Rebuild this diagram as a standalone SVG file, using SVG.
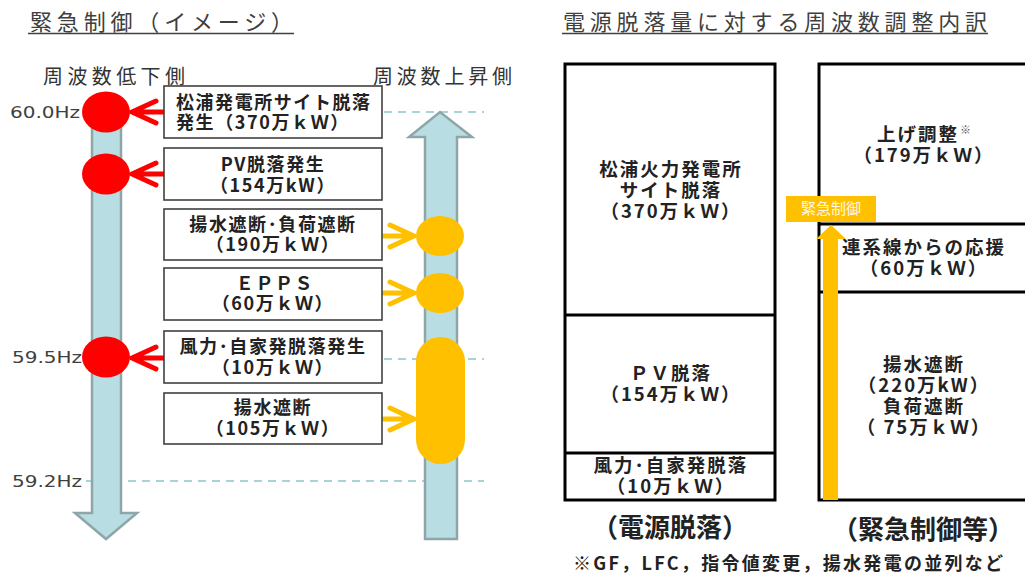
<svg xmlns="http://www.w3.org/2000/svg" width="1025" height="574" viewBox="0 0 1025 574">
<style>
.jp{font-family:"Noto Sans CJK JP","Noto Sans",sans-serif}
.b{font-weight:bold;fill:#222}
.t{font-size:18px;letter-spacing:1.6px;text-anchor:middle}
.r{font-size:18.5px;letter-spacing:2px;text-anchor:middle}
.ttl{font-size:22px;fill:#404040}
.sub{font-size:20px;fill:#333}
.hz{font-family:"DejaVu Sans",sans-serif;font-size:16px;fill:#404040}
.box{fill:#fff;stroke:#404040;stroke-width:1.6}
.cell{fill:#fff;stroke:#000;stroke-width:3}
.dash{stroke:#a8d4d8;stroke-width:2;stroke-dasharray:8 6;fill:none}
.bigarrow{fill:#b8dee3;stroke:#8fa6a9;stroke-width:2.5}
.red{fill:#ff0000}
.org{fill:#ffc000}
.ra{stroke:#ff0000;stroke-width:5;fill:none;stroke-linecap:round;stroke-linejoin:round}
.oa{stroke:#ffc000;stroke-width:5;fill:none;stroke-linecap:round;stroke-linejoin:round}
</style>

<!-- Left panel titles -->
<g id="title-left">
<text class="jp ttl" x="30" y="30" textLength="263" lengthAdjust="spacing">緊急制御（イメージ）</text>
<line x1="28" y1="33.5" x2="294" y2="33.5" stroke="#404040" stroke-width="1.5"/>
</g>
<g id="label-low"><text class="jp sub" x="43" y="84" textLength="142" lengthAdjust="spacing">周波数低下側</text></g>
<g id="label-high"><text class="jp sub" x="373" y="84" textLength="139" lengthAdjust="spacing">周波数上昇側</text></g>

<!-- Frequency labels and dashed lines -->
<g id="freq-lines">
<line class="dash" x1="384" y1="112" x2="484" y2="112"/>
<line class="dash" x1="384" y1="359" x2="484" y2="359"/>
<line class="dash" x1="86" y1="481" x2="484" y2="481"/>
</g>
<g id="hz-labels">
<text class="hz" x="10" y="118" textLength="70" lengthAdjust="spacingAndGlyphs">60.0Hz</text>
<text class="hz" x="12" y="363" textLength="70" lengthAdjust="spacingAndGlyphs">59.5Hz</text>
<text class="hz" x="12" y="487" textLength="70" lengthAdjust="spacingAndGlyphs">59.2Hz</text>
</g>

<!-- Big arrows -->
<g id="arrow-down"><polygon class="bigarrow" points="92,100 121,100 121,513 137,513 106,539 75,513 92,513"/></g>
<g id="arrow-up"><polygon class="bigarrow" points="425,539 457,539 457,137 472,137 440,112 409,137 425,137"/></g>

<!-- Markers -->
<g id="red-markers">
<ellipse class="red" cx="106" cy="112" rx="24" ry="20.5"/>
<ellipse class="red" cx="106" cy="174" rx="24" ry="20.5"/>
<ellipse class="red" cx="106" cy="357" rx="24" ry="20.5"/>
</g>
<g id="orange-markers">
<ellipse class="org" cx="440" cy="236" rx="24" ry="20"/>
<ellipse class="org" cx="440" cy="293" rx="24" ry="20"/>
<rect class="org" x="416" y="337" width="49" height="127" rx="24.5" ry="24.5"/>
</g>

<!-- Connectors -->
<g id="connectors">
<path class="ra" d="M164,112 H132 M156,101 L132,112 L156,123"/>
<path class="ra" d="M164,174 H132 M156,163 L132,174 L156,185"/>
<path class="ra" d="M164,358 H132 M156,347 L132,358 L156,369"/>
<path class="oa" d="M384,236 H414 M390,225 L414,236 L390,247"/>
<path class="oa" d="M384,293 H414 M390,282 L414,293 L390,304"/>
<path class="oa" d="M384,419 H414 M390,408 L414,419 L390,430"/>
</g>

<!-- Boxes -->
<g id="box-matsuura">
<rect class="box" x="164" y="86" width="218" height="52"/>
<text class="jp b" font-size="18" x="176" y="109" textLength="194" lengthAdjust="spacing">松浦発電所サイト脱落</text>
<text class="jp b" font-size="18" x="176" y="129" style="letter-spacing:1.6px">発生（370万ｋＷ）</text>
</g>
<g id="box-pv">
<rect class="box" x="164" y="148" width="218" height="52"/>
<text class="jp b t" x="273" y="171">PV脱落発生</text>
<text class="jp b t" x="273" y="192">（154万kW）</text>
</g>
<g id="box-pump-load">
<rect class="box" x="164" y="209" width="218" height="51"/>
<text class="jp b t" x="273" y="231">揚水遮断･負荷遮断</text>
<text class="jp b t" x="273" y="251">（190万ｋＷ）</text>
</g>
<g id="box-epps">
<rect class="box" x="164" y="268" width="218" height="52"/>
<text class="jp b t" x="275" y="290">ＥＰＰＳ</text>
<text class="jp b t" x="273" y="310">（60万ｋＷ）</text>
</g>
<g id="box-wind">
<rect class="box" x="164" y="331" width="218" height="52"/>
<text class="jp b t" x="273" y="353">風力･自家発脱落発生</text>
<text class="jp b t" x="273" y="374">（10万ｋＷ）</text>
</g>
<g id="box-pump">
<rect class="box" x="164" y="393" width="218" height="51"/>
<text class="jp b t" x="273" y="414">揚水遮断</text>
<text class="jp b t" x="273" y="435">（105万ｋＷ）</text>
</g>

<!-- Right panel -->
<g id="title-right">
<text class="jp ttl" x="563" y="30" textLength="424" lengthAdjust="spacing">電源脱落量に対する周波数調整内訳</text>
<line x1="562" y1="33.5" x2="988" y2="33.5" stroke="#404040" stroke-width="1.5"/>
</g>

<g id="col-loss">
<rect class="cell" x="565" y="64" width="210" height="436"/>
<line x1="565" y1="315" x2="775" y2="315" stroke="#000" stroke-width="3"/>
<line x1="565" y1="453" x2="775" y2="453" stroke="#000" stroke-width="3"/>
<text class="jp b r" x="671" y="176">松浦火力発電所</text>
<text class="jp b r" x="671" y="197">サイト脱落</text>
<text class="jp b r" x="671" y="218">（370万ｋＷ）</text>
<text class="jp b r" x="671" y="380">ＰＶ脱落</text>
<text class="jp b r" x="671" y="401">（154万ｋＷ）</text>
<text class="jp b r" x="671" y="472">風力･自家発脱落</text>
<text class="jp b r" x="671" y="493">（10万ｋＷ）</text>
</g>

<g id="col-control">
<rect class="cell" x="819" y="64" width="230" height="436"/>
<line x1="819" y1="224" x2="1030" y2="224" stroke="#000" stroke-width="3"/>
<line x1="819" y1="292" x2="1030" y2="292" stroke="#000" stroke-width="3"/>
<text class="jp b r" x="918" y="141">上げ調整</text>
<text class="jp" font-size="11" x="960" y="134" fill="#555">※</text>
<text class="jp b r" x="924" y="162">（179万ｋＷ）</text>
<text class="jp b r" x="924" y="254">連系線からの応援</text>
<text class="jp b r" x="924" y="275">（60万ｋＷ）</text>
<text class="jp b r" x="924" y="371">揚水遮断</text>
<text class="jp b r" x="924" y="392">（220万kW）</text>
<text class="jp b r" x="924" y="413">負荷遮断</text>
<text class="jp b r" x="924" y="434">（ 75万ｋＷ）</text>
</g>

<g id="emergency-arrow">
<polygon class="org" points="823,500 838,500 838,239 846,239 831,225 816,239 823,239"/>
</g>
<g id="emergency-label">
<rect class="org" x="786" y="196" width="90" height="26"/>
<text class="jp" font-size="15" x="831" y="214" text-anchor="middle" fill="#fff8e0">緊急制御</text>
</g>

<g id="captions">
<text class="jp b" font-size="26" x="670" y="537" text-anchor="middle">（電源脱落）</text>
<text class="jp b" font-size="26" x="923" y="539" text-anchor="middle">（緊急制御等）</text>
<text class="jp b" font-size="18" x="573" y="570" textLength="430" lengthAdjust="spacing">※GF，LFC，指令値変更，揚水発電の並列など</text>
</g>
</svg>
